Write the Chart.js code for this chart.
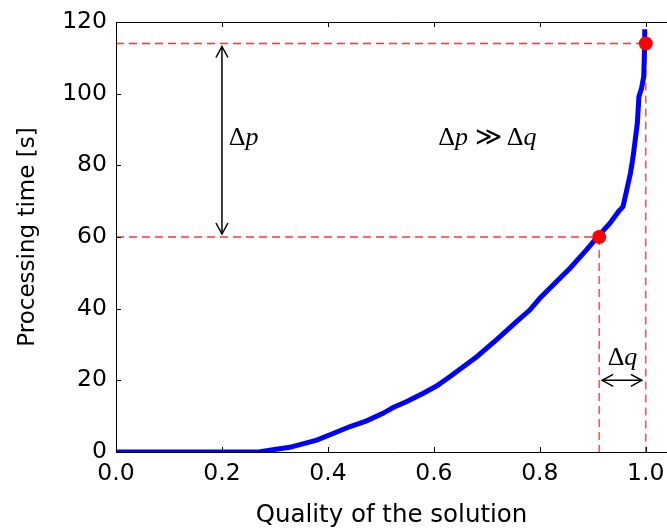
<!DOCTYPE html>
<html>
<head>
<meta charset="utf-8">
<script src="https://cdn.jsdelivr.net/npm/chart.js@4/dist/chart.umd.min.js"></script>
<style>
  html, body { margin: 0; padding: 0; background: #fff; }
  #wrap { width: 667px; height: 530px; }
</style>
</head>
<body>
<div id="wrap"><canvas id="chart" width="667" height="530"></canvas></div>
<script>
// Curve: quality of the solution vs processing time
const quality = [0, 0.27, 0.29, 0.328, 0.379, 0.404, 0.442, 0.473, 0.504, 0.523, 0.548, 0.58, 0.605, 0.63,
  0.681, 0.718, 0.756, 0.781, 0.8, 0.825, 0.857, 0.888, 0.911, 0.932, 0.948, 0.957, 0.964, 0.971,
  0.976, 0.984, 0.987, 0.992, 0.996, 0.998, 0.998];
const procTime = [0, 0, 0.5, 1.3, 3.3, 4.8, 7.1, 8.7, 10.8, 12.4, 14, 16.4, 18.4, 21,
  26.6, 31.3, 36.4, 39.6, 42.9, 46.6, 51.3, 56.4, 60.4, 63.8, 67, 68.5, 73.1, 77.8,
  82.4, 91.7, 99.2, 101.5, 104.7, 114, 118];

// the two red markers
const markerQuality = [0.912, 1.0];
const markerTime = [60, 114];

// axis ranges / ticks
const xRange = [0, 1.04];
const yRange = [0, 120];
const xStep = 0.2;
const yStep = 20;

// annotation anchors (data units)
const dpArrowX = 0.2;
const dqArrowY = 20;
const dpLabel = { x: 0.213, y: 85.7 };
const cmpLabel = { x: 0.701, y: 85.7 };
const dqLabel = { x: 0.956, y: 24.3 };

const curvePts = quality.map((q, i) => ({ x: q, y: procTime[i] }));
const markerPts = markerQuality.map((q, i) => ({ x: q, y: markerTime[i] }));

function guide(a, b) {
  return {
    data: [a, b],
    borderColor: 'rgba(255,0,0,0.8)',
    borderWidth: 1.3,
    borderDash: [8, 5],
    pointRadius: 0,
    clip: 0,
    order: 3
  };
}

const tickFont = { family: 'DejaVu Sans', size: 23.5 };

function arrowHead(ctx, tx, ty, dx, dy) {
  // open head, tip at (tx,ty), pointing along (dx,dy)
  const len = Math.hypot(dx, dy);
  const ux = dx / len, uy = dy / len;
  const hl = 11, hw = 6;
  ctx.beginPath();
  ctx.moveTo(tx - ux * hl - uy * hw, ty - uy * hl + ux * hw);
  ctx.lineTo(tx, ty);
  ctx.lineTo(tx - ux * hl + uy * hw, ty - uy * hl - ux * hw);
  ctx.stroke();
}

function doubleArrow(ctx, x1, y1, x2, y2) {
  ctx.beginPath();
  ctx.moveTo(x1, y1);
  ctx.lineTo(x2, y2);
  ctx.stroke();
  arrowHead(ctx, x1, y1, x1 - x2, y1 - y2);
  arrowHead(ctx, x2, y2, x2 - x1, y2 - y1);
}

// draws math-like text pieces: [text, italic]
function mathText(ctx, pieces, x, y, align) {
  const size = 26;
  const fontFor = it => (it ? 'italic ' : '') + size + 'px "Liberation Serif", "DejaVu Serif", serif';
  let total = 0;
  pieces.forEach(p => { ctx.font = fontFor(p[1]); total += ctx.measureText(p[0]).width; });
  let cx = align === 'center' ? x - total / 2 : x;
  ctx.textBaseline = 'alphabetic';
  ctx.textAlign = 'left';
  pieces.forEach(p => {
    ctx.font = fontFor(p[1]);
    ctx.fillText(p[0], cx, y);
    cx += ctx.measureText(p[0]).width;
  });
}

const decorations = {
  id: 'decorations',
  afterDatasetsDraw(chart) {
    const { ctx, chartArea: a, scales: { x, y } } = chart;
    ctx.save();
    ctx.strokeStyle = '#000';
    ctx.fillStyle = '#000';
    ctx.lineWidth = 1;
    // frame (right side falls outside the picture)
    ctx.beginPath();
    ctx.moveTo(a.right + 1, Math.round(a.top) + 0.5);
    ctx.lineTo(Math.round(a.left) + 0.5, Math.round(a.top) + 0.5);
    ctx.lineTo(Math.round(a.left) + 0.5, Math.round(a.bottom) + 0.5);
    ctx.lineTo(a.right + 1, Math.round(a.bottom) + 0.5);
    ctx.stroke();
    // inward ticks
    ctx.beginPath();
    x.ticks.forEach(t => {
      const px = Math.round(x.getPixelForValue(t.value)) + 0.5;
      ctx.moveTo(px, a.bottom); ctx.lineTo(px, a.bottom - 5);
      ctx.moveTo(px, a.top); ctx.lineTo(px, a.top + 5);
    });
    y.ticks.forEach(t => {
      const py = Math.round(y.getPixelForValue(t.value)) + 0.5;
      ctx.moveTo(a.left, py); ctx.lineTo(a.left + 5, py);
    });
    ctx.stroke();

    // arrows
    ctx.lineWidth = 1.5;
    const ax = x.getPixelForValue(dpArrowX);
    doubleArrow(ctx, ax, y.getPixelForValue(markerTime[1]) + 3, ax, y.getPixelForValue(markerTime[0]) - 3);
    const ay = y.getPixelForValue(dqArrowY);
    doubleArrow(ctx, x.getPixelForValue(markerQuality[0]) + 3, ay, x.getPixelForValue(markerQuality[1]) - 4, ay);

    // labels
    mathText(ctx, [['\u0394', false], ['p', true]], x.getPixelForValue(dpLabel.x), y.getPixelForValue(dpLabel.y), 'left');
    mathText(ctx, [['\u0394', false], ['p', true], [' \u226B', false], ['\u2009\u0394', false], ['q', true]],
      x.getPixelForValue(cmpLabel.x), y.getPixelForValue(cmpLabel.y), 'center');
    mathText(ctx, [['\u0394', false], ['q', true]], x.getPixelForValue(dqLabel.x), y.getPixelForValue(dqLabel.y), 'center');
    ctx.restore();
  }
};

new Chart(document.getElementById('chart'), {
  type: 'line',
  data: {
    datasets: [
      {
        data: markerPts,
        showLine: false,
        pointRadius: 7,
        pointHoverRadius: 7,
        pointBackgroundColor: '#ff0000',
        pointBorderColor: '#ff0000',
        pointBorderWidth: 0,
        clip: false,
        order: 1
      },
      {
        data: curvePts,
        borderColor: '#0000ff',
        borderWidth: 5,
        pointRadius: 0,
        tension: 0,
        clip: 0,
        order: 2
      },
      guide({ x: 0, y: markerTime[1] }, { x: markerQuality[1], y: markerTime[1] }),
      guide({ x: markerQuality[1], y: markerTime[1] }, { x: markerQuality[1], y: 0 }),
      guide({ x: 0, y: markerTime[0] }, { x: markerQuality[0], y: markerTime[0] }),
      guide({ x: markerQuality[0], y: markerTime[0] }, { x: markerQuality[0], y: 0 })
    ]
  },
  options: {
    responsive: false,
    animation: false,
    events: [],
    layout: { autoPadding: false, padding: { top: 22, right: 0, left: 0, bottom: 0 } },
    plugins: { legend: { display: false }, tooltip: { enabled: false } },
    scales: {
      x: {
        type: 'linear',
        min: xRange[0],
        max: xRange[1],
        grid: { display: false, drawTicks: false },
        border: { display: false },
        ticks: {
          stepSize: xStep,
          includeBounds: false,
          padding: 8,
          color: '#000',
          font: tickFont,
          maxRotation: 0,
          callback: v => v.toFixed(1)
        },
        title: {
          display: true,
          text: 'Quality of the solution',
          color: '#000',
          font: { family: 'DejaVu Sans', size: 24.5 },
          padding: { top: 0, bottom: 0 }
        },
        afterFit: s => { s.height = 78; s.paddingLeft = 0; s.paddingRight = 0; }
      },
      y: {
        min: yRange[0],
        max: yRange[1],
        grid: { display: false, drawTicks: false },
        border: { display: false },
        ticks: {
          stepSize: yStep,
          padding: 9,
          color: '#000',
          font: tickFont,
          callback: v => String(v)
        },
        title: {
          display: true,
          text: 'Processing time [s]',
          color: '#000',
          font: { family: 'DejaVu Sans', size: 23 },
          padding: { top: 14, bottom: 0 }
        },
        afterFit: s => { s.width = 116; s.paddingTop = 0; s.paddingBottom = 0; }
      }
    }
  },
  plugins: [decorations]
});
</script>
</body>
</html>
